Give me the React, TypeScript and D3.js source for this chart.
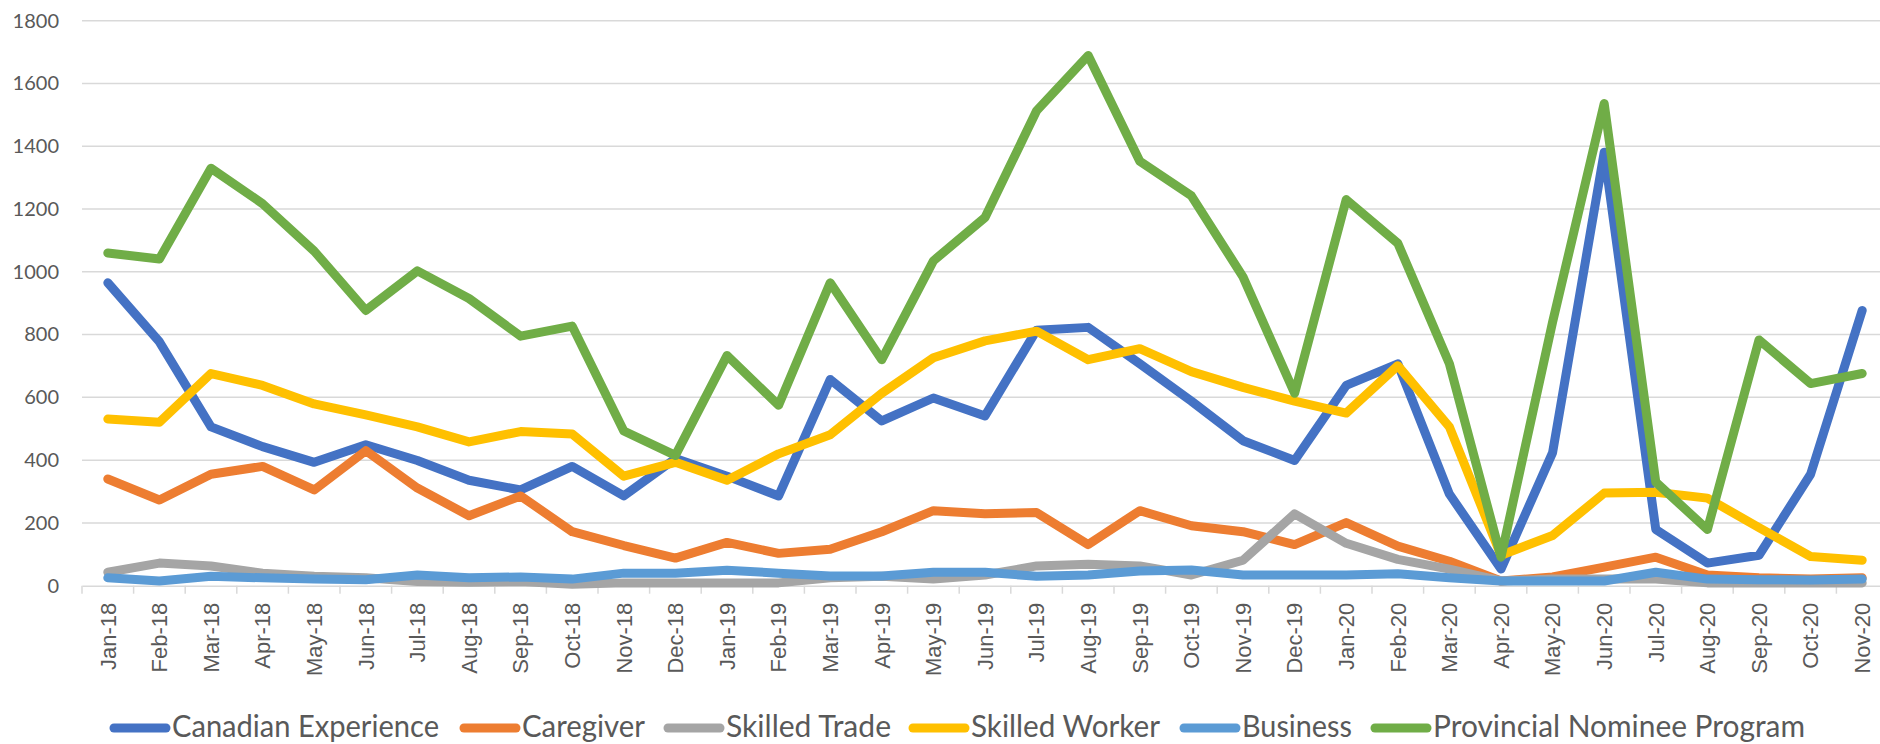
import { useEffect, useRef } from "react"
import { select, scaleLinear, scaleBand, axisLeft, axisBottom, line, format } from "d3"

const months = [
  "Jan-18", "Feb-18", "Mar-18", "Apr-18", "May-18", "Jun-18", "Jul-18", "Aug-18", "Sep-18", "Oct-18", "Nov-18", "Dec-18",
  "Jan-19", "Feb-19", "Mar-19", "Apr-19", "May-19", "Jun-19", "Jul-19", "Aug-19", "Sep-19", "Oct-19", "Nov-19", "Dec-19",
  "Jan-20", "Feb-20", "Mar-20", "Apr-20", "May-20", "Jun-20", "Jul-20", "Aug-20", "Sep-20", "Oct-20", "Nov-20",
]

const canadianExperience = [965, 777, 506, 443, 393, 449, 399, 336, 305, 380, 286, 405, 349, 286, 657, 525, 598, 541, 814, 823, 707, 588, 462, 399, 638, 707, 292, 53, 424, 1381, 179, 72, 97, 355, 877]
const caregiver = [340, 273, 355, 380, 305, 430, 311, 223, 286, 172, 128, 88, 138, 103, 116, 172, 239, 229, 233, 131, 239, 191, 172, 131, 201, 126, 78, 15, 28, 59, 91, 34, 25, 21, 25]
const skilledTrade = [43, 72, 63, 40, 30, 25, 13, 11, 13, 5, 9, 9, 9, 9, 25, 30, 21, 34, 63, 68, 63, 34, 81, 229, 135, 84, 53, 15, 21, 21, 21, 9, 9, 9, 9]
const skilledWorker = [531, 521, 676, 638, 579, 544, 506, 458, 491, 483, 349, 393, 336, 420, 481, 613, 726, 780, 811, 720, 755, 682, 632, 588, 550, 701, 506, 97, 160, 295, 298, 279, 185, 93, 81]
const business = [25, 15, 30, 25, 21, 19, 34, 25, 28, 21, 40, 40, 49, 40, 31, 31, 43, 43, 30, 34, 47, 50, 34, 34, 34, 38, 25, 15, 15, 15, 43, 21, 19, 18, 21]
const provincialNominee = [1060, 1041, 1330, 1217, 1066, 877, 1003, 915, 795, 827, 493, 415, 733, 575, 965, 720, 1035, 1173, 1513, 1689, 1352, 1242, 984, 613, 1230, 1091, 707, 91, 840, 1536, 330, 179, 783, 644, 676]

const yTicks = [0, 200, 400, 600, 800, 1000, 1200, 1400, 1600, 1800]

const seriesNames = ["Canadian Experience", "Caregiver", "Skilled Trade", "Skilled Worker", "Business", "Provincial Nominee Program"]
const seriesValues = [canadianExperience, caregiver, skilledTrade, skilledWorker, business, provincialNominee]
const colors = ["#4472C4", "#ED7D31", "#A5A5A5", "#FFC000", "#5B9BD5", "#70AD47"]

// legend layout (swatch start, text width)
const legendX = [110, 460, 664, 909, 1180, 1371]
const legendTextW = [267, 123, 165, 189, 110, 372]

export default function App() {
  const width = 1880
  const height = 744
  const svgRef = useRef<SVGSVGElement>(null)

  useEffect(() => {
    const svg = select(svgRef.current)
    svg.selectAll("*").remove()

    const left = 82
    const step = 51.6
    const xScale = scaleBand<string>()
      .domain(months)
      .range([left, left + step * months.length])
    const xMid = (m: string) => (xScale(m) as number) + xScale.bandwidth() / 2
    const yScale = scaleLinear().domain([0, 1800]).range([585.7, 20.7])

    // gridlines
    svg.append("g")
      .selectAll("line")
      .data(yTicks.slice(1))
      .join("line")
      .attr("x1", left)
      .attr("x2", left + step * months.length)
      .attr("y1", d => yScale(d))
      .attr("y2", d => yScale(d))
      .attr("stroke", "#D9D9D9")
      .attr("stroke-width", 1.5)

    // y axis labels
    const yAxis = axisLeft(yScale).tickValues(yTicks).tickFormat(format("d")).tickSize(0).tickPadding(0)
    const gy = svg.append("g").attr("transform", "translate(59,0)").call(yAxis)
    gy.select(".domain").remove()
    gy.selectAll("text")
      .attr("font-family", "Lato, 'Open Sans', sans-serif")
      .attr("font-size", 20)
      .attr("fill", "#595959")

    // x axis line + ticks at category boundaries
    const xAxis = axisBottom(xScale).tickSize(0).tickPadding(0)
    const gx = svg.append("g").attr("transform", "translate(0," + yScale(0) + ")").call(xAxis)
    gx.select(".domain").attr("stroke", "#D9D9D9").attr("stroke-width", 1.5)
    gx.selectAll(".tick line").remove()
    gx.selectAll("text")
      .attr("transform", "translate(0,17) rotate(-90)")
      .attr("text-anchor", "end")
      .attr("dy", "0.35em")
      .attr("y", 0)
      .attr("x", 0)
      .attr("font-family", "'Liberation Sans', Arial, sans-serif")
      .attr("font-size", 22)
      .attr("fill", "#595959")
    svg.append("g")
      .selectAll("line")
      .data(months)
      .join("line")
      .attr("x1", d => xScale(d) as number)
      .attr("x2", d => xScale(d) as number)
      .attr("y1", yScale(0))
      .attr("y2", yScale(0) + 8)
      .attr("stroke", "#D9D9D9")
      .attr("stroke-width", 1.5)

    // series lines
    const myLine = line<number>()
      .x((_v, i) => xMid(months[i]))
      .y(v => yScale(v))
    svg.append("g")
      .selectAll("path")
      .data(seriesValues)
      .join("path")
      .attr("d", d => myLine(d))
      .attr("fill", "none")
      .attr("stroke", (_d, i) => colors[i])
      .attr("stroke-width", 9)
      .attr("stroke-linejoin", "round")
      .attr("stroke-linecap", "round")

    // legend
    const lg = svg.append("g")
    seriesNames.forEach((name, i) => {
      lg.append("line")
        .attr("x1", legendX[i] + 4)
        .attr("x2", legendX[i] + 56)
        .attr("y1", 728)
        .attr("y2", 728)
        .attr("stroke", colors[i])
        .attr("stroke-width", 9)
        .attr("stroke-linecap", "round")
      lg.append("text")
        .attr("x", legendX[i] + 62)
        .attr("y", 737)
        .attr("font-family", "Lato, 'Open Sans', sans-serif")
        .attr("font-size", 30)
        .attr("fill", "#595959")
        .attr("textLength", legendTextW[i])
        .attr("lengthAdjust", "spacingAndGlyphs")
        .text(name)
    })
  }, [])

  return (
    <svg
      ref={svgRef}
      width={width}
      height={height}
      style={{ position: "absolute", left: 0, top: 0, background: "#fff" }}
    />
  )
}
